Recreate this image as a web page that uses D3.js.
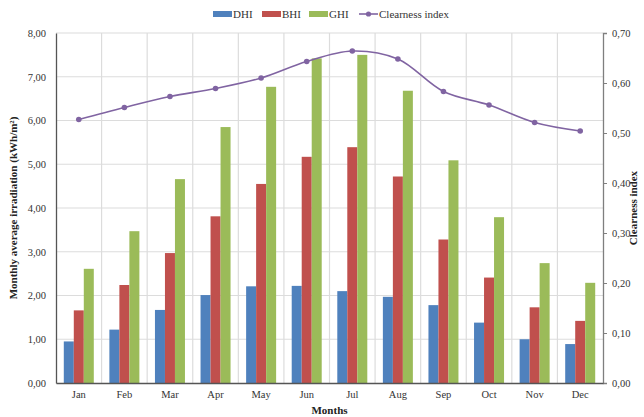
<!DOCTYPE html>
<html>
<head>
<meta charset="utf-8">
<script src="https://cdn.jsdelivr.net/npm/d3@7/dist/d3.min.js"></script>
<style>
  body { margin: 0; background: #fff; }
  svg { display: block; font-family: "Liberation Serif", "Times New Roman", serif; }
</style>
</head>
<body>
<svg id="chart" width="644" height="417"></svg>
<script>
// Monthly irradiation components (kWh/m²) and clearness index
const months = ["Jan","Feb","Mar","Apr","May","Jun","Jul","Aug","Sep","Oct","Nov","Dec"];
const dhi = [0.95, 1.22, 1.67, 2.01, 2.21, 2.22, 2.10, 1.97, 1.78, 1.38, 1.00, 0.89];
const bhi = [1.66, 2.24, 2.97, 3.81, 4.55, 5.17, 5.39, 4.72, 3.28, 2.41, 1.73, 1.42];
const ghi = [2.61, 3.47, 4.66, 5.85, 6.77, 7.42, 7.50, 6.68, 5.09, 3.79, 2.74, 2.29];
const clearness = [0.527, 0.551, 0.573, 0.589, 0.610, 0.643, 0.664, 0.648, 0.583, 0.556, 0.521, 0.504];
const leftTicks = [0, 1, 2, 3, 4, 5, 6, 7, 8];
const rightTicks = [0, 0.1, 0.2, 0.3, 0.4, 0.5, 0.6, 0.7];

const seriesNames = ["DHI", "BHI", "GHI"];
const seriesValues = [dhi, bhi, ghi];
const colors = { DHI: "#4f81bd", BHI: "#c0504d", GHI: "#9bbb59", line: "#8064a2" };

const svg = d3.select("#chart");
const m = { left: 56, right: 603, top: 33, bottom: 383 };
const fmt = v => d3.format(".2f")(v).replace(".", ",");

const x = d3.scaleBand().domain(months).range([m.left, m.right]).paddingInner(0).paddingOuter(0);
const yL = d3.scaleLinear().domain([0, 8]).range([m.bottom, m.top]);
const yR = d3.scaleLinear().domain([0, 0.7]).range([m.bottom, m.top]);

const barW = 10;
const groupW = barW * 3;

// gridlines
const grid = svg.append("g");
grid.selectAll("line.h").data(leftTicks.slice(1)).join("line")
  .attr("x1", m.left).attr("x2", m.right)
  .attr("y1", d => yL(d)).attr("y2", d => yL(d))
  .attr("stroke", "#dcdcdc").attr("stroke-width", 1.2);
grid.selectAll("line.v").data(months.slice(1)).join("line")
  .attr("x1", d => x(d)).attr("x2", d => x(d))
  .attr("y1", m.top).attr("y2", m.bottom)
  .attr("stroke", "#dcdcdc").attr("stroke-width", 1.2);

// grouped bars
seriesNames.forEach((name, si) => {
  svg.append("g").selectAll("rect").data(months).join("rect")
    .attr("x", d => x(d) + (x.bandwidth() - groupW) / 2 + si * barW)
    .attr("width", barW)
    .attr("y", (d, i) => yL(seriesValues[si][i]))
    .attr("height", (d, i) => m.bottom - yL(seriesValues[si][i]))
    .attr("fill", colors[name]);
});

// clearness index line (smoothed)
const cx = d => x(d) + x.bandwidth() / 2;
const line = d3.line().x((d, i) => cx(months[i])).y(d => yR(d)).curve(d3.curveCatmullRom.alpha(0.5));
svg.append("path").datum(clearness).attr("d", line)
  .attr("fill", "none").attr("stroke", colors.line).attr("stroke-width", 1.6);
svg.append("g").selectAll("circle").data(clearness).join("circle")
  .attr("cx", (d, i) => cx(months[i])).attr("cy", d => yR(d)).attr("r", 2.8)
  .attr("fill", colors.line);

// axes
const axisColor = "#7f7f7f";
const leftAxis = svg.append("g").attr("transform", `translate(${m.left},0)`)
  .call(d3.axisLeft(yL).tickValues(leftTicks).tickFormat(fmt).tickSize(0).tickPadding(10));
const rightAxis = svg.append("g").attr("transform", `translate(${m.right},0)`)
  .call(d3.axisRight(yR).tickValues(rightTicks).tickFormat(fmt).tickSize(4).tickPadding(5));
const bottomAxis = svg.append("g").attr("transform", `translate(0,${m.bottom})`)
  .call(d3.axisBottom(x).tickSize(0).tickPadding(8));
[leftAxis, rightAxis, bottomAxis].forEach(a => {
  a.select(".domain").attr("stroke", axisColor).attr("stroke-width", 1.3);
  a.selectAll(".tick line").attr("stroke", axisColor);
  a.selectAll("text").attr("font-family", "Liberation Serif, serif").attr("font-size", 10.5).attr("fill", "#333");
});
leftAxis.select(".domain").attr("stroke", "#555");
bottomAxis.select(".domain").attr("stroke", "#555");

// axis titles
svg.append("text").attr("transform", `translate(17,${(m.top + m.bottom) / 2}) rotate(-90)`)
  .attr("text-anchor", "middle").attr("font-weight", "bold").attr("font-size", 11).attr("fill", "#222")
  .text("Monthly average irradiation (kWh/m²)");
svg.append("text").attr("transform", `translate(637,${(m.top + m.bottom) / 2}) rotate(-90)`)
  .attr("text-anchor", "middle").attr("font-weight", "bold").attr("font-size", 11).attr("fill", "#222")
  .text("Clearness index");
svg.append("text").attr("x", (m.left + m.right) / 2).attr("y", 414)
  .attr("text-anchor", "middle").attr("font-weight", "bold").attr("font-size", 11).attr("fill", "#222")
  .text("Months");

// legend
const legend = svg.append("g").attr("font-size", 11).attr("fill", "#333");
const legendItems = [
  { name: "DHI", x: 213, type: "bar" },
  { name: "BHI", x: 262, type: "bar" },
  { name: "GHI", x: 309, type: "bar" },
  { name: "Clearness index", x: 359, type: "line" }
];
legendItems.forEach(it => {
  const g = legend.append("g").attr("transform", `translate(${it.x},14)`);
  if (it.type === "bar") {
    g.append("rect").attr("x", 0).attr("y", -3).attr("width", 19).attr("height", 6).attr("fill", colors[it.name]);
  } else {
    g.append("line").attr("x1", 0).attr("x2", 19).attr("y1", 0).attr("y2", 0).attr("stroke", colors.line).attr("stroke-width", 1.6);
    g.append("circle").attr("cx", 9.5).attr("cy", 0).attr("r", 2.6).attr("fill", colors.line);
  }
  g.append("text").attr("x", 20).attr("y", 4).attr("fill", "#333").text(it.name);
});
</script>
</body>
</html>
